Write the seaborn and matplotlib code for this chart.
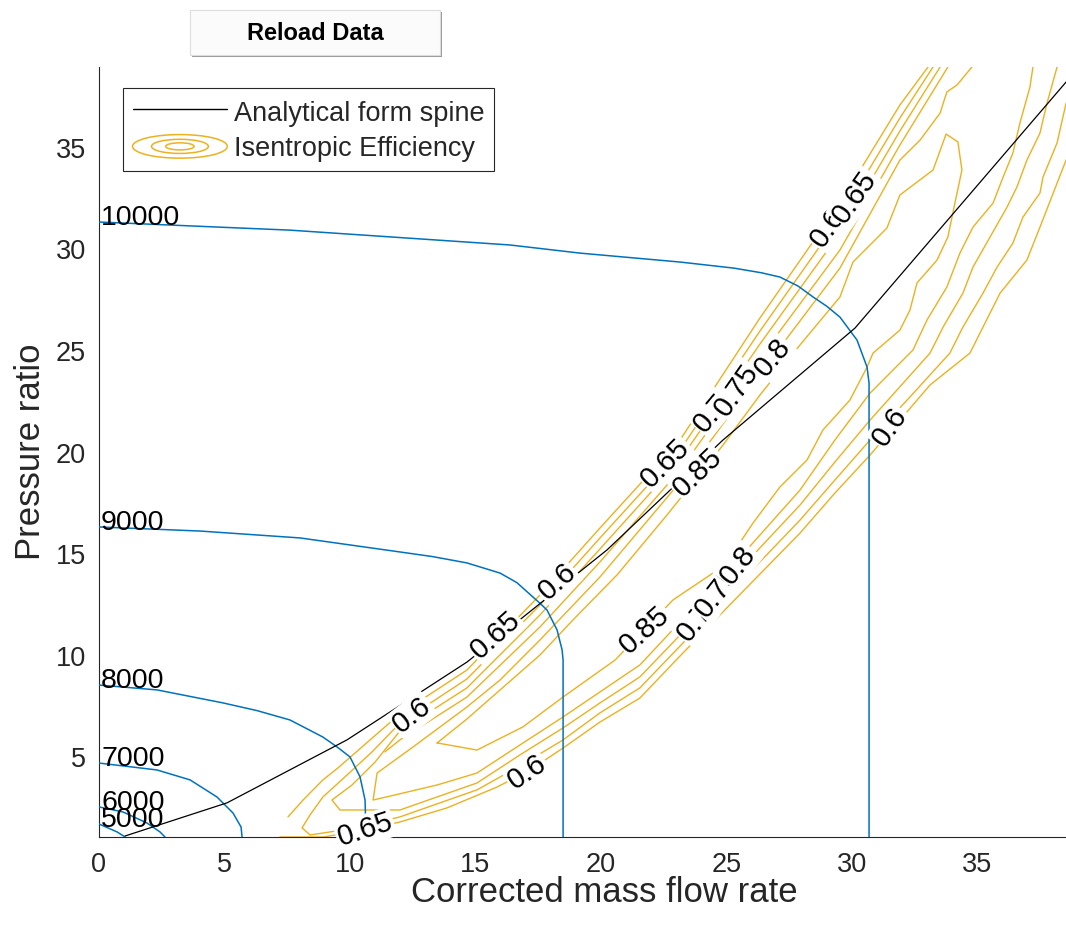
import pandas as pd
import seaborn as sns
import matplotlib.pyplot as plt
from matplotlib.lines import Line2D
from matplotlib.patches import Ellipse, Rectangle
from matplotlib.legend_handler import HandlerBase

# speed lines (corrected speed)
speeds = [5000, 6000, 7000, 8000, 9000, 10000]
n5000_x = [0, 0.72, 1.04]
n5000_y = [1.72, 1.33, 1.08]
n6000_x = [0, 0.96, 1.91, 2.43, 2.63]
n6000_y = [2.56, 2.31, 1.77, 1.33, 1.08]
n7000_x = [0, 2.31, 3.63, 4.70, 5.34, 5.66, 5.70]
n7000_y = [4.72, 4.38, 3.89, 3.05, 2.26, 1.57, 1.08]
n8000_x = [0, 2.31, 4.94, 6.30, 7.61, 8.92, 9.50, 10.0, 10.40, 10.60, 10.64]
n8000_y = [8.56, 8.32, 7.68, 7.30, 6.84, 6.00, 5.50, 5.02, 4.04, 2.90, 1.08]
n9000_x = [0, 4.02, 8.01, 11.99, 13.30, 14.66, 15.98, 16.65, 17.29, 17.60, 17.85, 18.25, 18.45, 18.49, 18.49]
n9000_y = [16.34, 16.14, 15.80, 15.11, 14.88, 14.57, 14.07, 13.60, 12.89, 12.55, 12.25, 11.27, 10.29, 9.79, 1.08]
n10000_x = [0, 7.61, 16.37, 19.16, 23.15, 25.30, 26.40, 27.13, 27.85, 28.45, 29.00, 29.52, 30.20, 30.60, 30.68, 30.68]
n10000_y = [31.35, 30.95, 30.22, 29.82, 29.38, 29.08, 28.85, 28.64, 28.20, 27.66, 27.20, 26.67, 25.54, 24.21, 23.43, 1.08]

# analytical spine
spine_x = [1.04, 5.10, 9.88, 14.66, 20.24, 24.86, 30.12, 38.53]
spine_y = [1.13, 2.76, 5.86, 9.69, 15.21, 20.62, 26.13, 38.24]

# isentropic efficiency contour traces
eff_a_x = [7.53, 8.13, 8.92, 9.52, 10.80, 11.99, 14.66, 17.57, 19.96, 23.15, 26.33, 29.52, 31.91, 33.03]
eff_a_y = [2.07, 2.90, 3.89, 4.48, 5.86, 7.14, 9.30, 12.99, 16.29, 20.62, 26.62, 32.28, 37.11, 38.98]
eff_b_x = [33.23, 31.91, 29.52, 26.33, 23.15, 19.96, 17.57, 14.66, 11.99, 10.88, 9.80, 8.92, 8.41, 8.09,
           8.41, 10.00, 11.99, 15.06, 16.77, 18.49, 19.96, 21.55, 23.15, 24.74, 26.33, 27.93, 29.32,
           30.72, 32.31, 33.90, 34.42, 35.22, 35.78, 36.41, 36.81, 37.49, 37.61, 38.17, 38.53]
eff_b_y = [38.98, 36.47, 31.55, 25.98, 20.13, 15.80, 12.50, 8.86, 6.69, 5.27, 4.04, 3.05, 2.17, 1.53,
           1.18, 1.48, 2.07, 3.40, 4.58, 5.86, 7.19, 8.42, 10.48, 12.55, 14.62, 16.68, 18.65,
           20.62, 22.74, 24.90, 26.18, 27.85, 29.13, 30.31, 31.59, 32.78, 33.56, 35.24, 37.20]
eff_c_x = [33.51, 31.91, 29.52, 26.33, 23.15, 19.96, 17.57, 14.66, 11.99, 11.00, 10.08, 9.28,
           9.60, 11.99, 15.06, 16.77, 18.49, 19.96, 21.55, 23.15, 24.74, 26.33, 27.93, 29.32,
           30.72, 33.11, 33.63, 34.42, 34.82, 35.50, 36.18, 36.57, 36.97, 37.49, 37.77, 38.17]
eff_c_y = [38.98, 35.83, 30.81, 25.34, 19.64, 15.26, 12.01, 8.42, 6.30, 4.77, 3.64, 2.90,
           2.41, 2.41, 3.74, 5.12, 6.45, 7.68, 8.96, 11.02, 13.14, 15.31, 17.42, 19.54,
           21.60, 24.90, 26.18, 27.85, 29.13, 30.61, 32.09, 33.07, 34.40, 35.73, 37.20, 38.98]
eff_d_x = [11.39, 11.99, 14.66, 17.57, 19.96, 23.15, 26.33, 29.52, 31.91, 33.82]
eff_d_y = [5.27, 5.86, 7.97, 11.42, 14.62, 19.14, 24.66, 29.97, 35.14, 38.98]
eff_e_x = [34.78, 34.18, 33.78, 33.51, 32.71, 31.91, 29.52, 26.33, 23.15, 19.96, 17.57, 15.98,
           14.66, 13.59, 12.51, 11.08, 10.92, 11.79, 13.47, 15.06, 16.77, 18.49, 19.96, 21.55,
           23.15, 24.74, 26.33, 27.93, 29.32, 30.72, 32.43, 32.99, 33.78, 34.30, 34.82, 35.62,
           36.02, 36.41, 36.69, 37.09, 37.21]
eff_e_y = [38.98, 38.09, 37.75, 36.71, 35.38, 34.40, 29.08, 23.87, 18.55, 13.88, 10.78, 8.81,
           7.48, 6.50, 5.51, 4.23, 2.90, 3.15, 3.64, 4.23, 5.61, 6.99, 8.22, 9.55,
           11.66, 13.73, 15.94, 18.16, 20.62, 22.93, 25.05, 26.53, 28.15, 29.82, 31.10, 32.28,
           33.56, 34.74, 36.22, 37.99, 38.98]
eff_f_x = [7.21, 8.92, 10.40, 11.99, 13.86, 15.86, 17.17, 18.49, 19.96, 21.55, 23.15, 24.74,
           26.33, 27.93, 29.32, 30.72, 31.91, 33.11, 34.70, 35.22, 35.90, 36.97, 37.49, 38.53]
eff_f_y = [1.08, 1.08, 1.38, 1.82, 2.51, 3.54, 4.38, 5.46, 6.74, 7.92, 9.99, 12.01,
           14.02, 16.04, 18.01, 19.88, 21.60, 23.33, 24.90, 26.18, 27.85, 29.48, 31.10, 34.40]
eff_peak_x = [13.47, 14.66, 15.98, 17.57, 18.88, 20.64, 22.63, 24.86, 26.33, 27.93, 29.52, 30.04,
              31.39, 31.91, 33.23, 33.75, 34.22, 34.38, 34.10, 33.82, 33.39, 32.59, 32.31, 31.91,
              30.84, 30.60, 29.92, 28.84, 28.21, 27.13, 26.06, 25.26, 24.46, 22.87, 20.56, 18.49,
              16.89, 15.06, 13.47]
eff_peak_y = [5.71, 6.89, 8.32, 10.04, 11.76, 13.98, 16.93, 20.37, 22.83, 25.30, 27.66, 29.38,
              31.05, 32.68, 33.91, 35.68, 35.29, 33.91, 32.28, 30.61, 29.48, 28.35, 27.02, 26.03,
              24.90, 24.21, 22.59, 21.11, 19.64, 18.31, 16.54, 15.06, 14.07, 12.75, 9.79, 7.97,
              6.50, 5.36, 5.71]

# contour labels
lab_text = ['0.6', '0.65', '0.6', '0.65', '0.7', '0.75', '0.8', '0.85', '0.6', '0.65',
            '0.6', '0.85', '0.7', '0.75', '0.8', '0.6', '0.65']
lab_x = [12.47, 15.78, 18.25, 22.55, 24.42, 25.42, 26.85, 23.86, 29.04, 30.12,
         31.51, 21.75, 23.75, 24.66, 25.46, 17.05, 10.60]
lab_y = [7.09, 11.02, 13.63, 19.49, 21.95, 23.08, 24.70, 19.00, 31.05, 32.58,
         21.26, 11.27, 11.66, 13.14, 14.47, 4.28, 1.43]
lab_rot = [38, 42, 42, 45, 50, 55, 50, 44, 55, 55, 55, 42, 52, 52, 52, 34, 18]

BLUE = '#0072BD'
ORANGE = '#EDB120'
GREY = '#262626'

speed_df = pd.concat([
    pd.DataFrame({'x': x, 'y': y, 'speed': s})
    for s, x, y in zip(speeds,
                       [n5000_x, n6000_x, n7000_x, n8000_x, n9000_x, n10000_x],
                       [n5000_y, n6000_y, n7000_y, n8000_y, n9000_y, n10000_y])
])
eff_df = pd.concat([
    pd.DataFrame({'x': x, 'y': y, 'seg': i})
    for i, (x, y) in enumerate([(eff_a_x, eff_a_y), (eff_b_x, eff_b_y), (eff_c_x, eff_c_y),
                                (eff_d_x, eff_d_y), (eff_e_x, eff_e_y), (eff_f_x, eff_f_y),
                                (eff_peak_x, eff_peak_y)])
])

sns.set_theme(style='white')
plt.rcParams['font.family'] = ['Liberation Sans', 'DejaVu Sans']

fig = plt.figure(figsize=(10.66, 9.31), dpi=100)
ax = fig.add_axes([99 / 1066, 94 / 931, 1010 / 1066, 770 / 931])

sns.lineplot(data=eff_df, x='x', y='y', units='seg', estimator=None, sort=False,
             color=ORANGE, lw=1.0, legend=False, ax=ax, zorder=2)
sns.lineplot(data=speed_df, x='x', y='y', units='speed', estimator=None, sort=False,
             color=BLUE, lw=1.1, legend=False, ax=ax, zorder=3)
sns.lineplot(x=spine_x, y=spine_y, sort=False, estimator=None, color='black', lw=0.9,
             ax=ax, zorder=3)

for s, x, y in zip(speeds, [n5000_x, n6000_x, n7000_x, n8000_x, n9000_x, n10000_x],
                   [n5000_y, n6000_y, n7000_y, n8000_y, n9000_y, n10000_y]):
    ax.annotate(str(s), (x[0], y[0]), xytext=(1.5, -2), textcoords='offset points',
                ha='left', va='baseline', fontsize=20.5, color='black', zorder=4)

for t, x, y, r in zip(lab_text, lab_x, lab_y, lab_rot):
    ax.text(x, y, t, rotation=r, ha='center', va='center', rotation_mode='anchor',
            fontsize=21, color='black', zorder=5, clip_on=False,
            bbox=dict(boxstyle='square,pad=0.05', fc='white', ec='none'))

ax.set_xlim(0, 40.24)
ax.set_ylim(1.08, 38.98)
ax.set_xticks(range(0, 40, 5))
ax.set_yticks(range(5, 40, 5))
ax.tick_params(direction='in', length=7, width=0.8, colors=GREY, labelsize=19.5)
ax.tick_params(axis='x', pad=10.5)
ax.tick_params(axis='y', pad=9.5)
for side in ['top', 'right']:
    ax.spines[side].set_visible(False)
for side in ['left', 'bottom']:
    ax.spines[side].set_color(GREY)
    ax.spines[side].set_linewidth(0.8)

ax.set_xlabel('Corrected mass flow rate', fontsize=25, color=GREY)
ax.set_ylabel('Pressure ratio', fontsize=25, color=GREY)
ax.xaxis.set_label_coords(0.5, -0.051)
ax.yaxis.set_label_coords(-0.0515, 0.5)


class EllipseHandler(HandlerBase):
    def create_artists(self, legend, orig_handle, xdescent, ydescent, width, height,
                       fontsize, trans):
        cx = width / 2 - xdescent
        cy = height / 2 - ydescent
        out = []
        for f in (1.0, 0.6, 0.3):
            out.append(Ellipse((cx, cy), width * f, height * 0.85 * f, fill=False,
                               edgecolor=ORANGE, lw=1.1, transform=trans))
        return out


eff_proxy = Line2D([], [], color=ORANGE)
spine_proxy = Line2D([], [], color='black', lw=1.0)
leg = ax.legend([spine_proxy, eff_proxy], ['Analytical form spine', 'Isentropic Efficiency'],
                handler_map={eff_proxy: EllipseHandler()},
                loc='upper left', bbox_to_anchor=(0.0238, 0.9727), borderaxespad=0,
                fontsize=19.5, frameon=True, fancybox=False, framealpha=1,
                edgecolor=GREY, handlelength=3.5, handleheight=1.2, handletextpad=0.24,
                borderpad=0.35, labelspacing=0.22)
leg.get_frame().set_linewidth(0.8)
leg.set_zorder(6)

# "Reload Data" button above the axes
fig.add_artist(Rectangle((192 / 1066, 1 - 57 / 931), 250 / 1066, 45 / 931,
                         transform=fig.transFigure, fc='#9a9a9a', ec='none'))
fig.add_artist(Rectangle((190 / 1066, 1 - 55 / 931), 250 / 1066, 45 / 931,
                         transform=fig.transFigure, fc='#fbfbfb', ec='#dddddd', lw=0.8))
fig.text(315 / 1066, 1 - 33 / 931, 'Reload Data', ha='center', va='center',
         fontsize=17, fontweight='bold', color='black')

fig.savefig('out.png', dpi=100)
